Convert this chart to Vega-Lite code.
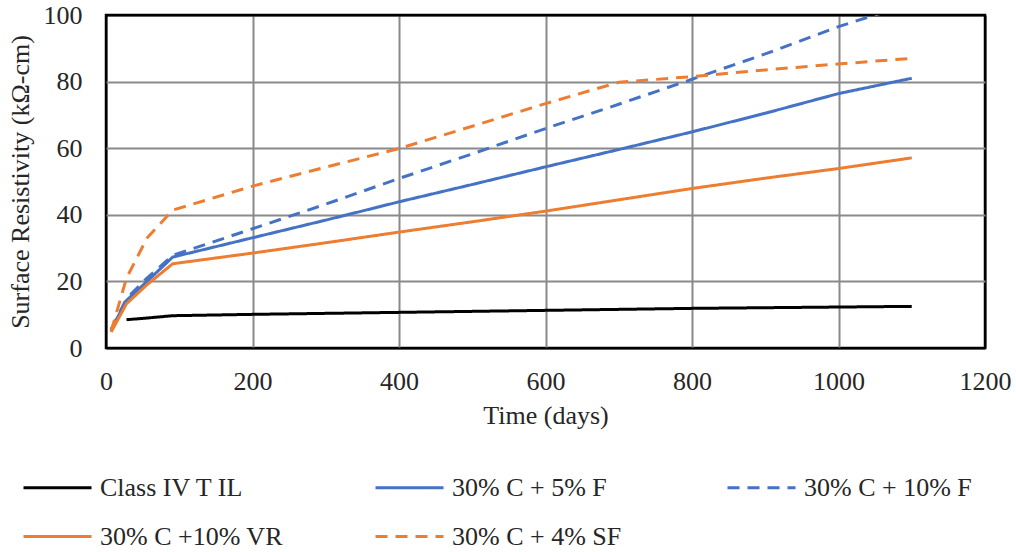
{
  "$schema": "https://vega.github.io/schema/vega-lite/v6.json",
  "width": 879,
  "height": 333,
  "autosize": {"type": "none"},
  "padding": {"left": 106, "top": 15, "right": 31, "bottom": 204},
  "background": "white",
  "config": {
    "view": {"stroke": "black", "strokeWidth": 2.5},
    "font": "Liberation Serif",
    "axis": {
      "labelFont": "Liberation Serif",
      "titleFont": "Liberation Serif",
      "labelColor": "#262626",
      "titleColor": "#262626",
      "titleFontWeight": "normal",
      "labelFontSize": 26,
      "titleFontSize": 26,
      "ticks": false,
      "domain": false,
      "gridColor": {"condition": {"test": "datum.value == 0 || datum.value == 100 || datum.value == 1200", "value": "black"}, "value": "#8a8a8a"},
      "gridWidth": 2
    },
    "legend": {
      "orient": "none",
      "legendX": -84,
      "legendY": 437,
      "direction": "horizontal",
      "columns": 3,
      "gridAlign": "all",
      "columnPadding": 86,
      "rowPadding": -19,
      "symbolType": "stroke",
      "symbolSize": 4624,
      "symbolStrokeWidth": 3,
      "labelFont": "Liberation Serif",
      "labelFontSize": 26,
      "labelColor": "#262626",
      "labelOffset": 7,
      "labelLimit": 400
    }
  },
  "data": {
    "values": [
      {"series": "Class IV T IL", "day": 28, "value": 8.5},
      {"series": "Class IV T IL", "day": 56, "value": 9.0},
      {"series": "Class IV T IL", "day": 91, "value": 9.7},
      {"series": "Class IV T IL", "day": 200, "value": 10.1},
      {"series": "Class IV T IL", "day": 400, "value": 10.7},
      {"series": "Class IV T IL", "day": 600, "value": 11.3},
      {"series": "Class IV T IL", "day": 800, "value": 11.9},
      {"series": "Class IV T IL", "day": 1000, "value": 12.3},
      {"series": "Class IV T IL", "day": 1100, "value": 12.5},

      {"series": "30% C + 5% F", "day": 7, "value": 5.5},
      {"series": "30% C + 5% F", "day": 28, "value": 14.3},
      {"series": "30% C + 5% F", "day": 56, "value": 20.0},
      {"series": "30% C + 5% F", "day": 91, "value": 27.3},
      {"series": "30% C + 5% F", "day": 200, "value": 33.1},
      {"series": "30% C + 5% F", "day": 300, "value": 38.4},
      {"series": "30% C + 5% F", "day": 400, "value": 43.9},
      {"series": "30% C + 5% F", "day": 500, "value": 49.1},
      {"series": "30% C + 5% F", "day": 600, "value": 54.4},
      {"series": "30% C + 5% F", "day": 700, "value": 59.6},
      {"series": "30% C + 5% F", "day": 800, "value": 64.9},
      {"series": "30% C + 5% F", "day": 900, "value": 70.5},
      {"series": "30% C + 5% F", "day": 1000, "value": 76.4},
      {"series": "30% C + 5% F", "day": 1100, "value": 81.0},

      {"series": "30% C + 10% F", "day": 7, "value": 5.5},
      {"series": "30% C + 10% F", "day": 28, "value": 14.8},
      {"series": "30% C + 10% F", "day": 56, "value": 21.0},
      {"series": "30% C + 10% F", "day": 91, "value": 27.8},
      {"series": "30% C + 10% F", "day": 200, "value": 35.8},
      {"series": "30% C + 10% F", "day": 300, "value": 43.2},
      {"series": "30% C + 10% F", "day": 400, "value": 50.9},
      {"series": "30% C + 10% F", "day": 500, "value": 58.3},
      {"series": "30% C + 10% F", "day": 600, "value": 65.9},
      {"series": "30% C + 10% F", "day": 700, "value": 73.2},
      {"series": "30% C + 10% F", "day": 800, "value": 80.7},
      {"series": "30% C + 10% F", "day": 900, "value": 88.3},
      {"series": "30% C + 10% F", "day": 1000, "value": 96.5},
      {"series": "30% C + 10% F", "day": 1100, "value": 103.5},

      {"series": "30% C +10% VR", "day": 7, "value": 4.8},
      {"series": "30% C +10% VR", "day": 28, "value": 13.3},
      {"series": "30% C +10% VR", "day": 56, "value": 19.0},
      {"series": "30% C +10% VR", "day": 91, "value": 25.3},
      {"series": "30% C +10% VR", "day": 200, "value": 28.5},
      {"series": "30% C +10% VR", "day": 300, "value": 31.6},
      {"series": "30% C +10% VR", "day": 400, "value": 34.8},
      {"series": "30% C +10% VR", "day": 500, "value": 37.9},
      {"series": "30% C +10% VR", "day": 600, "value": 41.1},
      {"series": "30% C +10% VR", "day": 700, "value": 44.5},
      {"series": "30% C +10% VR", "day": 800, "value": 47.9},
      {"series": "30% C +10% VR", "day": 900, "value": 51.0},
      {"series": "30% C +10% VR", "day": 1000, "value": 53.9},
      {"series": "30% C +10% VR", "day": 1100, "value": 57.1},

      {"series": "30% C + 4% SF", "day": 7, "value": 5.0},
      {"series": "30% C + 4% SF", "day": 28, "value": 21.0},
      {"series": "30% C + 4% SF", "day": 56, "value": 33.0},
      {"series": "30% C + 4% SF", "day": 91, "value": 41.4},
      {"series": "30% C + 4% SF", "day": 200, "value": 48.6},
      {"series": "30% C + 4% SF", "day": 300, "value": 54.3},
      {"series": "30% C + 4% SF", "day": 400, "value": 59.9},
      {"series": "30% C + 4% SF", "day": 500, "value": 66.6},
      {"series": "30% C + 4% SF", "day": 600, "value": 73.4},
      {"series": "30% C + 4% SF", "day": 700, "value": 79.8},
      {"series": "30% C + 4% SF", "day": 800, "value": 81.5},
      {"series": "30% C + 4% SF", "day": 900, "value": 83.5},
      {"series": "30% C + 4% SF", "day": 1000, "value": 85.3},
      {"series": "30% C + 4% SF", "day": 1100, "value": 87.0}
    ]
  },
  "mark": {"type": "line", "strokeWidth": 3, "clip": true, "strokeCap": "butt"},
  "encoding": {
    "x": {
      "field": "day", "type": "quantitative",
      "scale": {"domain": [0, 1200], "nice": false},
      "axis": {"values": [0, 200, 400, 600, 800, 1000, 1200], "format": "d", "labelFont": "Liberation Serif", "labelFontSize": 26, "title": "Time (days)", "labelPadding": 20, "titlePadding": 8, "labelFlush": false}
    },
    "y": {
      "field": "value", "type": "quantitative",
      "scale": {"domain": [0, 100], "nice": false},
      "axis": {"values": [0, 20, 40, 60, 80, 100], "format": "d", "labelFont": "Liberation Serif", "labelFontSize": 26, "title": "Surface Resistivity (kΩ-cm)", "labelPadding": 24, "titlePadding": 10, "labelFlush": false}
    },
    "color": {
      "field": "series", "type": "nominal", "title": null,
      "scale": {
        "domain": ["Class IV T IL", "30% C + 5% F", "30% C + 10% F", "30% C +10% VR", "30% C + 4% SF"],
        "range": ["#000000", "#4472C4", "#4472C4", "#ED7D31", "#ED7D31"]
      }
    },
    "strokeDash": {
      "field": "series", "type": "nominal", "title": null,
      "scale": {
        "domain": ["Class IV T IL", "30% C + 5% F", "30% C + 10% F", "30% C +10% VR", "30% C + 4% SF"],
        "range": [[1, 0], [1, 0], [12, 8], [1, 0], [12, 8]]
      }
    }
  }
}
